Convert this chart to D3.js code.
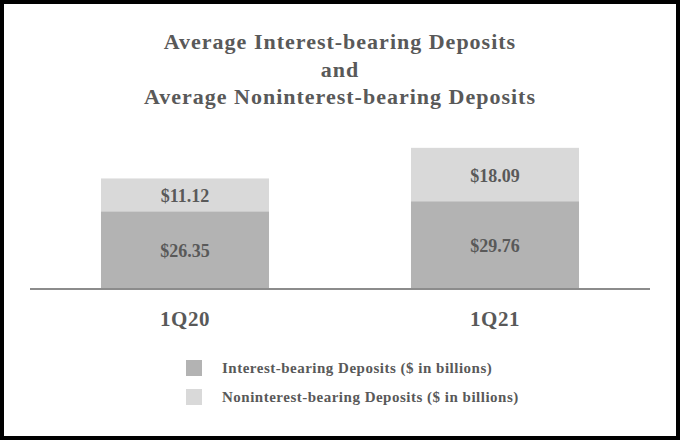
<!DOCTYPE html>
<html><head><meta charset="utf-8">
<script src="https://cdn.jsdelivr.net/npm/d3@7"></script>
<style>html,body{margin:0;padding:0;background:#fff;}svg{display:block;}</style>
</head><body>
<script>
const categories = ["1Q20", "1Q21"];
const interestBearing = [26.35, 29.76];
const nonInterestBearing = [11.12, 18.09];
const seriesNames = ["Interest-bearing Deposits ($ in billions)", "Noninterest-bearing Deposits ($ in billions)"];
const titleLines = ["Average Interest-bearing Deposits", "and", "Average Noninterest-bearing Deposits"];

const W = 680, H = 440;
const font = "'Liberation Serif','Times New Roman',serif";
const textColor = "#595959";
const colors = ["#b3b3b3", "#d9d9d9"];

const svg = d3.select("body").append("svg").attr("width", W).attr("height", H);
svg.append("rect").attr("x", 0).attr("y", 0).attr("width", W).attr("height", H).attr("fill", "#fff");
svg.append("rect").attr("x", 2).attr("y", 2).attr("width", W - 4).attr("height", H - 4)
  .attr("fill", "none").attr("stroke", "#000").attr("stroke-width", 4);

// title
svg.append("g").selectAll("text").data(titleLines).join("text")
  .attr("x", W / 2).attr("y", (d, i) => 49 + i * 27.5)
  .attr("text-anchor", "middle").attr("font-family", font).attr("font-weight", "bold")
  .attr("font-size", 22).attr("letter-spacing", 1).attr("fill", textColor).text(d => d);

const x = d3.scaleBand().domain(categories).range([30, 650]).paddingInner(0.458).paddingOuter(0.229);
const y = d3.scaleLinear().domain([0, 50]).range([289, 289 - 50 * 2.95]);

const data = categories.map((c, i) => ({ cat: c, vals: [interestBearing[i], nonInterestBearing[i]] }));
const stack = d3.stack().keys([0, 1]).value((d, k) => d.vals[k]);
const stacked = stack(data);

const g = svg.append("g");
stacked.forEach((layer, k) => {
  g.append("g").selectAll("rect").data(layer).join("rect")
    .attr("x", d => x(d.data.cat)).attr("width", x.bandwidth())
    .attr("y", d => y(d[1])).attr("height", d => y(d[0]) - y(d[1]))
    .attr("fill", colors[k]);
  g.append("g").selectAll("text").data(layer).join("text")
    .attr("x", d => x(d.data.cat) + x.bandwidth() / 2)
    .attr("y", d => (y(d[0]) + y(d[1])) / 2 + 1)
    .attr("text-anchor", "middle").attr("dominant-baseline", "central")
    .attr("font-family", font).attr("font-weight", "bold").attr("font-size", 18)
    .attr("fill", textColor).text(d => "$" + d.data.vals[k].toFixed(2));
});

// baseline
svg.append("line").attr("x1", 30).attr("x2", 650).attr("y1", y(0)).attr("y2", y(0))
  .attr("stroke", "#8c8c8c").attr("stroke-width", 2);

// category labels
svg.append("g").selectAll("text").data(categories).join("text")
  .attr("x", d => x(d) + x.bandwidth() / 2).attr("y", 326)
  .attr("text-anchor", "middle").attr("font-family", font).attr("font-weight", "bold")
  .attr("font-size", 21).attr("letter-spacing", 0.5).attr("fill", textColor).text(d => d);

// legend
const lg = svg.append("g").selectAll("g").data(seriesNames).join("g")
  .attr("transform", (d, i) => `translate(186,${360 + i * 29})`);
lg.append("rect").attr("width", 16).attr("height", 16).attr("fill", (d, i) => colors[i]);
lg.append("text").attr("x", 36).attr("y", 13).attr("font-family", font).attr("font-weight", "bold")
  .attr("font-size", 15).attr("letter-spacing", 0.5).attr("fill", textColor).text(d => d);
</script>
</body></html>
